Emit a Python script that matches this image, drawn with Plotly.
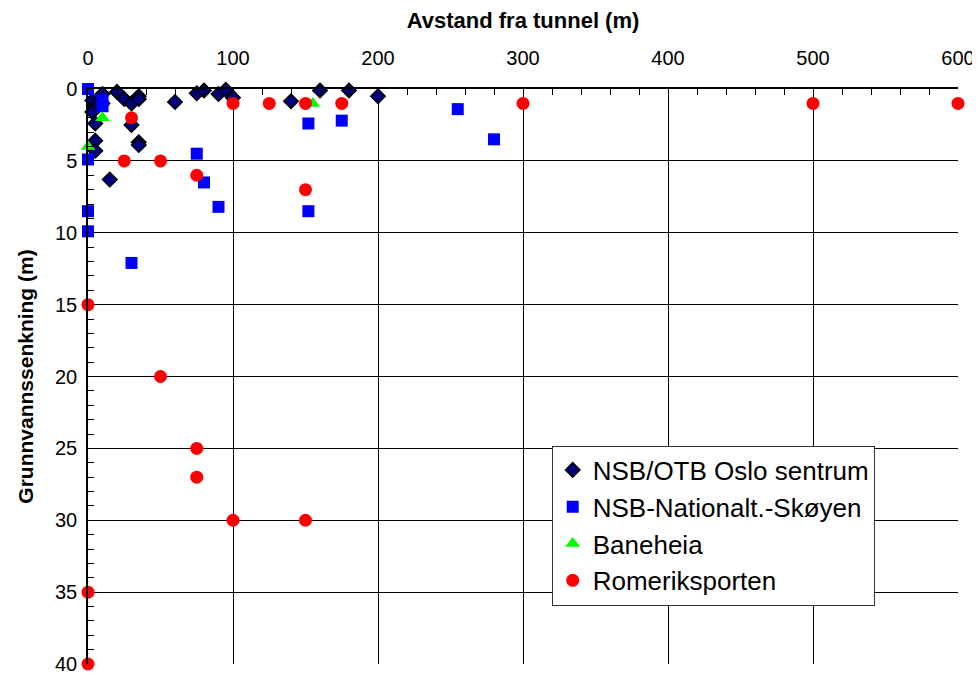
import plotly.graph_objects as go

# NSB/OTB Oslo sentrum
osl_x = [3, 5, 3, 5, 5, 5, 10, 10, 20, 25, 30, 35, 35, 30, 35, 35, 15, 60, 75, 80, 90, 95, 100, 140, 160, 180, 200]
osl_y = [0.8, 1.2, 1.6, 2.4, 3.6, 4.3, 0.35, 1.0, 0.2, 0.7, 1.0, 0.5, 0.7, 2.5, 3.7, 3.9, 6.3, 0.9, 0.3, 0.1, 0.35, 0.05, 0.6, 0.85, 0.1, 0.1, 0.5]

# NSB-Nationalt.-Skøyen
sk_x = [0, 10, 10, 0, 0, 0, 30, 75, 80, 90, 152, 152, 175, 255, 280]
sk_y = [0, 0.8, 1.2, 4.9, 8.5, 9.9, 12.1, 4.5, 6.5, 8.2, 2.4, 8.5, 2.2, 1.4, 3.5]

# Baneheia
bh_x = [10, 0, 155]
bh_y = [2.0, 4.0, 1.0]

# Romeriksporten
rp_x = [30, 25, 50, 75, 100, 125, 150, 175, 300, 500, 600, 150, 0, 50, 75, 75, 100, 150, 0, 0]
rp_y = [2, 5, 5, 6, 1, 1, 1, 1, 1, 1, 1, 7, 15, 20, 25, 27, 30, 30, 35, 40]

names = ["NSB/OTB Oslo sentrum", "NSB-Nationalt.-Skøyen", "Baneheia", "Romeriksporten"]

fig = go.Figure()
fig.add_trace(go.Scatter(x=osl_x, y=osl_y, mode="markers", name=names[0], cliponaxis=False,
                         marker=dict(symbol="diamond", size=11, color="#000080",
                                     line=dict(color="black", width=1.6))))
fig.add_trace(go.Scatter(x=sk_x, y=sk_y, mode="markers", name=names[1], cliponaxis=False,
                         marker=dict(symbol="square", size=12, color="#0000FF",
                                     line=dict(width=0))))
fig.add_trace(go.Scatter(x=bh_x, y=bh_y, mode="markers", name=names[2], cliponaxis=False,
                         marker=dict(symbol="triangle-up", size=13, color="#00FF00",
                                     line=dict(width=0))))
fig.add_trace(go.Scatter(x=rp_x, y=rp_y, mode="markers", name=names[3], cliponaxis=False,
                         marker=dict(symbol="circle", size=13, color="#FF0000",
                                     line=dict(width=0))))

fnt = "Arial, Liberation Sans, sans-serif"
fig.update_layout(
    width=980, height=674,
    margin=dict(l=80, r=30, t=81, b=18),
    paper_bgcolor="white", plot_bgcolor="white",
    font=dict(family=fnt, color="black", size=20),
    showlegend=True,
    legend=dict(x=0.533, y=0.38, xanchor="left", yanchor="top",
                bordercolor="#333333", borderwidth=1, bgcolor="white",
                font=dict(size=26, family=fnt),
                tracegroupgap=0),
    xaxis=dict(side="top", range=[0, 600], dtick=100, tick0=0, automargin=False,
               showgrid=True, gridcolor="black", gridwidth=1,
               showline=True, linecolor="black", linewidth=1.5,
               ticks="", zeroline=False, ticklabelstandoff=14,
               tickfont=dict(size=20),
               minor=dict(dtick=20, ticks="inside", ticklen=6, tickcolor="black", showgrid=False),
               title=dict(text="<b>Avstand fra tunnel (m)</b>", font=dict(size=22), standoff=16)),
    yaxis=dict(range=[40, 0], dtick=5, tick0=0, automargin=False,
               showgrid=True, gridcolor="black", gridwidth=1,
               showline=True, linecolor="black", linewidth=1.5,
               ticks="", zeroline=False, ticklabelstandoff=5,
               tickfont=dict(size=20),
               minor=dict(dtick=1, ticks="inside", ticklen=6, tickcolor="black", showgrid=False),
               title=dict(text="<b>Grunnvannssenkning (m)</b>", font=dict(size=21), standoff=16)),
)

fig.write_html("out.html")
